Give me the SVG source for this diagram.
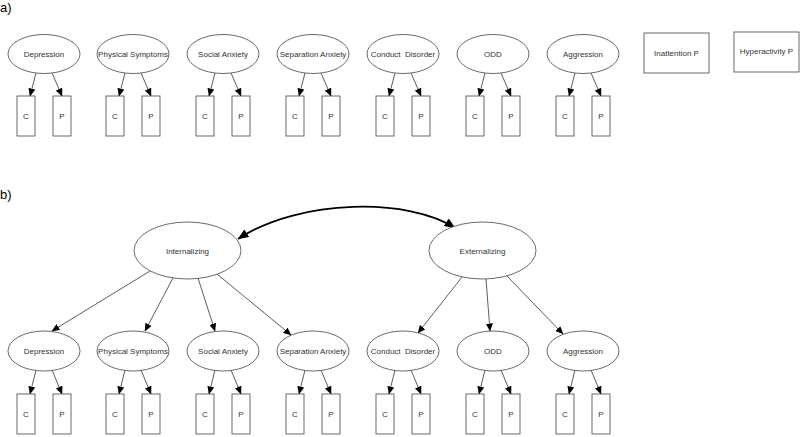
<svg xmlns="http://www.w3.org/2000/svg" width="800" height="437" viewBox="0 0 800 437">
<defs>
<style>
.lat{fill:#fff;stroke:#444;stroke-width:0.8}
.box{fill:#fff;stroke:#444;stroke-width:0.8}
.t{font-family:"Liberation Sans",Arial,sans-serif;font-size:8px;fill:#333;text-anchor:middle}
.lbl{font-family:"Liberation Sans",Arial,sans-serif;font-size:13px;fill:#000}
.e{fill:none;stroke:#333;stroke-width:0.8;marker-end:url(#ah)}
.cov{fill:none;stroke:#000;stroke-width:1.8;marker-start:url(#bh);marker-end:url(#bh)}
</style>
<marker id="ah" markerUnits="userSpaceOnUse" markerWidth="8" markerHeight="7" refX="7.5" refY="3.5" orient="auto"><path d="M0,0 L8,3.5 L0,7 z" fill="#000"/></marker>
<marker id="bh" markerUnits="userSpaceOnUse" markerWidth="11" markerHeight="9" refX="10.5" refY="4.5" orient="auto-start-reverse"><path d="M0,0 L11,4.5 L0,9 z" fill="#000"/></marker>
</defs>
<rect width="800" height="437" fill="#fff"/>
<text class="lbl" x="0" y="12">a)</text>
<text class="lbl" x="0" y="199">b)</text>

<g id="connectors">
<path class="e" d="M36,73 L30,96"/><path class="e" d="M52,73 L62,96"/>
<path class="e" d="M125,73 L119,96"/><path class="e" d="M141,73 L151,96"/>
<path class="e" d="M215,73 L209,96"/><path class="e" d="M231,73 L241,96"/>
<path class="e" d="M305,73 L299,96"/><path class="e" d="M321,73 L331,96"/>
<path class="e" d="M395,73 L389,96"/><path class="e" d="M411,73 L421,96"/>
<path class="e" d="M485,73 L479,96"/><path class="e" d="M501,73 L511,96"/>
<path class="e" d="M575,73 L569,96"/><path class="e" d="M591,73 L601,96"/>

<path class="e" d="M36,370 L30,394"/><path class="e" d="M52,370 L62,394"/>
<path class="e" d="M125,370 L119,394"/><path class="e" d="M141,370 L151,394"/>
<path class="e" d="M215,370 L209,394"/><path class="e" d="M231,370 L241,394"/>
<path class="e" d="M305,370 L299,394"/><path class="e" d="M321,370 L331,394"/>
<path class="e" d="M395,370 L389,394"/><path class="e" d="M411,370 L421,394"/>
<path class="e" d="M485,370 L479,394"/><path class="e" d="M501,370 L511,394"/>
<path class="e" d="M575,370 L569,394"/><path class="e" d="M591,370 L601,394"/>

<path class="e" d="M150,271 L52,331"/>
<path class="e" d="M173,278 L145,331"/>
<path class="e" d="M198,278 L215,331"/>
<path class="e" d="M217,274 L291,335"/>
<path class="e" d="M462,277 L418,333"/>
<path class="e" d="M486,279 L490,331"/>
<path class="e" d="M507,276 L563,334"/>

<path class="cov" d="M238,239 C300,198 410,198 455,228"/>
</g>

<g id="a-depression"><ellipse class="lat" cx="44" cy="54" rx="36" ry="19.5"/><text class="t" x="44" y="57">Depression</text></g>
<g id="a-physical"><ellipse class="lat" cx="133" cy="54" rx="36" ry="19.5"/><text class="t" x="133" y="57">Physical Symptoms</text></g>
<g id="a-social"><ellipse class="lat" cx="223" cy="54" rx="36" ry="19.5"/><text class="t" x="223" y="57">Social Anxiety</text></g>
<g id="a-separation"><ellipse class="lat" cx="313" cy="54" rx="36" ry="19.5"/><text class="t" x="313" y="57">Separation Anxiety</text></g>
<g id="a-conduct"><ellipse class="lat" cx="403" cy="54" rx="36" ry="19.5"/><text class="t" x="403" y="57" xml:space="preserve">Conduct  Disorder</text></g>
<g id="a-odd"><ellipse class="lat" cx="493" cy="54" rx="36" ry="19.5"/><text class="t" x="493" y="57">ODD</text></g>
<g id="a-aggression"><ellipse class="lat" cx="583" cy="54" rx="36" ry="19.5"/><text class="t" x="583" y="57">Aggression</text></g>
<g id="a-inattention"><rect class="box" x="644" y="33" width="65" height="40"/><text class="t" x="676.5" y="56">Inattention P</text></g>
<g id="a-hyperactivity"><rect class="box" x="734" y="32" width="65" height="40"/><text class="t" x="766.5" y="54">Hyperactivity P</text></g>

<g id="a-dep-c"><rect class="box" x="17" y="96" width="18" height="40"/><text class="t" x="26" y="119">C</text></g>
<g id="a-dep-p"><rect class="box" x="53" y="96" width="18" height="40"/><text class="t" x="62" y="119">P</text></g>
<g id="a-phy-c"><rect class="box" x="106" y="96" width="18" height="40"/><text class="t" x="115" y="119">C</text></g>
<g id="a-phy-p"><rect class="box" x="142" y="96" width="18" height="40"/><text class="t" x="151" y="119">P</text></g>
<g id="a-soc-c"><rect class="box" x="196" y="96" width="18" height="40"/><text class="t" x="205" y="119">C</text></g>
<g id="a-soc-p"><rect class="box" x="232" y="96" width="18" height="40"/><text class="t" x="241" y="119">P</text></g>
<g id="a-sep-c"><rect class="box" x="286" y="96" width="18" height="40"/><text class="t" x="295" y="119">C</text></g>
<g id="a-sep-p"><rect class="box" x="322" y="96" width="18" height="40"/><text class="t" x="331" y="119">P</text></g>
<g id="a-con-c"><rect class="box" x="376" y="96" width="18" height="40"/><text class="t" x="385" y="119">C</text></g>
<g id="a-con-p"><rect class="box" x="412" y="96" width="18" height="40"/><text class="t" x="421" y="119">P</text></g>
<g id="a-odd-c"><rect class="box" x="466" y="96" width="18" height="40"/><text class="t" x="475" y="119">C</text></g>
<g id="a-odd-p"><rect class="box" x="502" y="96" width="18" height="40"/><text class="t" x="511" y="119">P</text></g>
<g id="a-agg-c"><rect class="box" x="556" y="96" width="18" height="40"/><text class="t" x="565" y="119">C</text></g>
<g id="a-agg-p"><rect class="box" x="592" y="96" width="18" height="40"/><text class="t" x="601" y="119">P</text></g>

<g id="b-internalizing"><ellipse class="lat" cx="187.5" cy="250.5" rx="53.5" ry="28.5"/><text class="t" x="187.5" y="253.5">Internalizing</text></g>
<g id="b-externalizing"><ellipse class="lat" cx="482.5" cy="250.5" rx="53.5" ry="28.5"/><text class="t" x="482.5" y="253.5">Externalizing</text></g>

<g id="b-depression"><ellipse class="lat" cx="44" cy="351" rx="36" ry="20"/><text class="t" x="44" y="354">Depression</text></g>
<g id="b-physical"><ellipse class="lat" cx="133" cy="351" rx="36" ry="20"/><text class="t" x="133" y="354">Physical Symptoms</text></g>
<g id="b-social"><ellipse class="lat" cx="223" cy="351" rx="36" ry="20"/><text class="t" x="223" y="354">Social Anxiety</text></g>
<g id="b-separation"><ellipse class="lat" cx="313" cy="351" rx="36" ry="20"/><text class="t" x="313" y="354">Separation Anxiety</text></g>
<g id="b-conduct"><ellipse class="lat" cx="403" cy="351" rx="36" ry="20"/><text class="t" x="403" y="354" xml:space="preserve">Conduct  Disorder</text></g>
<g id="b-odd"><ellipse class="lat" cx="493" cy="351" rx="36" ry="20"/><text class="t" x="493" y="354">ODD</text></g>
<g id="b-aggression"><ellipse class="lat" cx="583" cy="351" rx="36" ry="20"/><text class="t" x="583" y="354">Aggression</text></g>

<g id="b-dep-c"><rect class="box" x="17" y="394" width="18" height="40"/><text class="t" x="26" y="417">C</text></g>
<g id="b-dep-p"><rect class="box" x="53" y="394" width="18" height="40"/><text class="t" x="62" y="417">P</text></g>
<g id="b-phy-c"><rect class="box" x="106" y="394" width="18" height="40"/><text class="t" x="115" y="417">C</text></g>
<g id="b-phy-p"><rect class="box" x="142" y="394" width="18" height="40"/><text class="t" x="151" y="417">P</text></g>
<g id="b-soc-c"><rect class="box" x="196" y="394" width="18" height="40"/><text class="t" x="205" y="417">C</text></g>
<g id="b-soc-p"><rect class="box" x="232" y="394" width="18" height="40"/><text class="t" x="241" y="417">P</text></g>
<g id="b-sep-c"><rect class="box" x="286" y="394" width="18" height="40"/><text class="t" x="295" y="417">C</text></g>
<g id="b-sep-p"><rect class="box" x="322" y="394" width="18" height="40"/><text class="t" x="331" y="417">P</text></g>
<g id="b-con-c"><rect class="box" x="376" y="394" width="18" height="40"/><text class="t" x="385" y="417">C</text></g>
<g id="b-con-p"><rect class="box" x="412" y="394" width="18" height="40"/><text class="t" x="421" y="417">P</text></g>
<g id="b-odd-c"><rect class="box" x="466" y="394" width="18" height="40"/><text class="t" x="475" y="417">C</text></g>
<g id="b-odd-p"><rect class="box" x="502" y="394" width="18" height="40"/><text class="t" x="511" y="417">P</text></g>
<g id="b-agg-c"><rect class="box" x="556" y="394" width="18" height="40"/><text class="t" x="565" y="417">C</text></g>
<g id="b-agg-p"><rect class="box" x="592" y="394" width="18" height="40"/><text class="t" x="601" y="417">P</text></g>
</svg>
